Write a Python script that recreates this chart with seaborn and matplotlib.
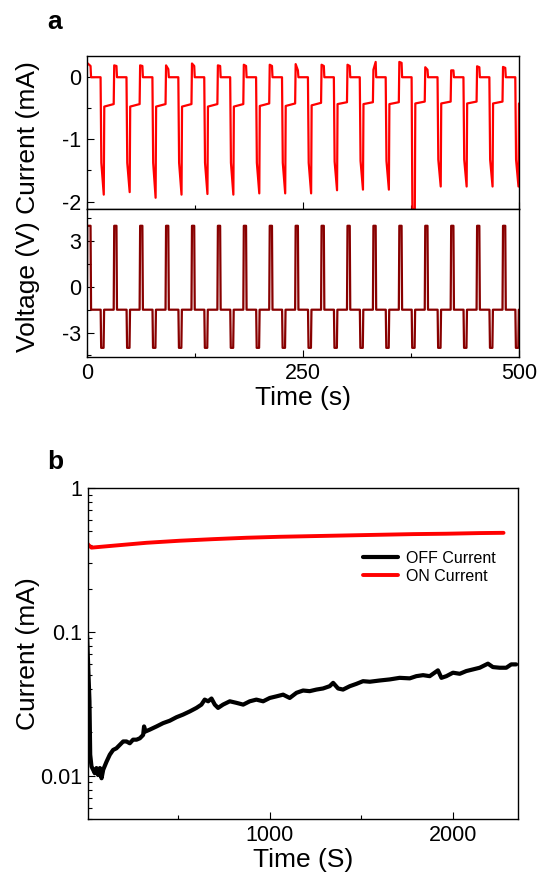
import numpy as np
import matplotlib
matplotlib.use("Agg")
import matplotlib.pyplot as plt
import seaborn as sns
import pandas as pd
from matplotlib.ticker import FixedLocator, NullFormatter
from matplotlib.lines import Line2D

# ---- panel a: pulse train (times in s, current in mA, voltage in V)
pulse_c = [2.8, 32.8, 62.8, 92.8, 122.8, 152.8, 182.8, 212.8, 242.8,
           272.8, 302.8, 332.8, 362.8, 392.8, 422.8, 452.8, 482.8]
peak_a = [0.22, 0.18, 0.18, 0.18, 0.21, 0.18, 0.19, 0.19, 0.20,
          0.19, 0.19, 0.11, 0.235, 0.15, 0.10, 0.165, 0.155]
peak_b = [0.17, 0.17, 0.17, 0.12, 0.17, 0.17, 0.17, 0.17, 0.10,
          0.17, 0.17, 0.235, 0.22, 0.11, 0.10, 0.15, 0.14]
knee = [-1.38, -1.38, -1.38, -1.38, -1.38, -1.38, -1.38, -1.38, -1.38,
        -1.36, -1.35, -1.35, -2.1, -1.33, -1.33, -1.33, -1.33]
bottom = [-1.89, -1.85, -1.94, -1.89, -1.88, -1.89, -1.87, -1.87, -1.87,
          -1.82, -1.81, -1.81, -2.2, -1.76, -1.76, -1.76, -1.76]
mid_start = [-0.48, -0.48, -0.48, -0.48, -0.48, -0.48, -0.47, -0.47, -0.46,
             -0.44, -0.44, -0.44, -0.43, -0.43, -0.43, -0.43, -0.43]
mid_end = [-0.44, -0.44, -0.44, -0.44, -0.44, -0.44, -0.43, -0.43, -0.42,
           -0.41, -0.41, -0.41, -0.40, -0.40, -0.40, -0.40, -0.40]
plateau = -0.01
v_high, v_mid, v_low = 4.0, -1.5, -4.0

# ---- panel b: long-term OFF / ON current (mA)
off_t = [3, 16, 20, 27, 36, 45, 54, 63, 73, 82, 91, 109, 127, 145, 163, 182, 200,
         218, 236, 254, 273, 291, 309, 314, 322, 345, 382, 418, 454, 491, 527, 564,
         600, 627, 645, 664, 682, 700, 718, 745, 782, 818, 855, 891, 927, 964, 1000,
         1036, 1073, 1109, 1146, 1182, 1218, 1255, 1291, 1327, 1346, 1373, 1400, 1437,
         1473, 1509, 1546, 1600, 1655, 1709, 1764, 1800, 1837, 1873, 1918, 1937, 1964,
         2000, 2037, 2073, 2109, 2146, 2191, 2218, 2255, 2291, 2318, 2345]
off_i = [0.094, 0.033, 0.0140, 0.0116, 0.0110, 0.0104, 0.0113, 0.0101, 0.0113, 0.0096,
         0.0110, 0.0125, 0.0140, 0.0151, 0.0155, 0.0164, 0.0173, 0.0173, 0.0168, 0.0178,
         0.0178, 0.0182, 0.0192, 0.0220, 0.0203, 0.0209, 0.0220, 0.0232, 0.0241, 0.0255,
         0.0266, 0.0280, 0.0296, 0.0312, 0.0338, 0.0329, 0.0344, 0.0312, 0.0296, 0.0312,
         0.0329, 0.0321, 0.0312, 0.0329, 0.0338, 0.0329, 0.0347, 0.0356, 0.0366, 0.0347,
         0.0377, 0.0391, 0.0387, 0.0397, 0.0404, 0.0419, 0.0442, 0.0404, 0.0397, 0.0419,
         0.0435, 0.0454, 0.0450, 0.0459, 0.0467, 0.0479, 0.0475, 0.0492, 0.0500, 0.0492,
         0.0540, 0.0479, 0.0492, 0.0520, 0.0511, 0.0534, 0.0548, 0.0563, 0.0601, 0.0569,
         0.0563, 0.0563, 0.0594, 0.0594]
on_t = [5, 12, 27, 145, 327, 509, 691, 873, 1055, 1237, 1418, 1600, 1782, 1964, 2146, 2276]
on_i = [0.41, 0.40, 0.385, 0.397, 0.416, 0.430, 0.441, 0.451, 0.458, 0.463,
        0.468, 0.473, 0.478, 0.481, 0.486, 0.488]

# build the pulse traces from the per-cycle readings
cur_t, cur_i = [0.0], [peak_a[0]]
vol_t, vol_v = [0.0, 0.3], [0.0, v_high]
for k, c in enumerate(pulse_c):
    if k > 0:
        cur_t += [c - 1.9, c - 1.3]
        cur_i += [mid_end[k - 1], peak_a[k]]
        vol_t += [c - 1.9, c - 1.3]
        vol_v += [v_mid, v_high]
    cur_t += [c + 1.3, c + 1.9, c + 12.9, c + 13.8, c + 16.6, c + 17.2]
    cur_i += [peak_b[k], plateau, plateau, knee[k], bottom[k], mid_start[k]]
    vol_t += [c + 1.3, c + 1.9, c + 13.0, c + 13.6, c + 16.4, c + 17.0]
    vol_v += [v_high, v_mid, v_mid, v_low, v_low, v_mid]

df_cur = pd.DataFrame({"t": cur_t, "i": cur_i})
df_vol = pd.DataFrame({"t": vol_t, "v": vol_v})
df_off = pd.DataFrame({"t": off_t, "i": off_i})
df_on = pd.DataFrame({"t": on_t, "i": on_i})

sns.set_theme(style="ticks")
plt.rcParams['font.family'] = ['Liberation Sans', 'DejaVu Sans']
plt.rcParams['axes.unicode_minus'] = False
for key in ('text.color', 'axes.labelcolor', 'xtick.color', 'ytick.color', 'axes.edgecolor'):
    plt.rcParams[key] = 'black'
plt.rcParams['xtick.direction'] = 'in'
plt.rcParams['ytick.direction'] = 'in'
plt.rcParams['axes.linewidth'] = 1.0

W, H = 538, 891
fig = plt.figure(figsize=(W / 100, H / 100), dpi=100)

def rect(l, t, r, b):
    return [l / W, 1 - b / H, (r - l) / W, (b - t) / H]

ax_i = fig.add_axes(rect(87, 56, 519, 209))
ax_v = fig.add_axes(rect(87, 209, 519, 357), sharex=ax_i)
ax_b = fig.add_axes(rect(88, 488, 518, 819))

tick_fs = 15.5
lab_fs = 19

sns.lineplot(data=df_cur, x="t", y="i", ax=ax_i, color="#ff0000", lw=1.6,
             estimator=None, sort=False)
sns.lineplot(data=df_vol, x="t", y="v", ax=ax_v, color="#880000", lw=1.6,
             estimator=None, sort=False)

ax_i.set_xlim(0, 500)
ax_i.set_ylim(-2.12, 0.33)
ax_i.set_yticks([0, -1, -2])
ax_i.yaxis.set_minor_locator(FixedLocator([-0.5, -1.5]))
ax_i.tick_params(labelbottom=False)
ax_v.set_ylim(-4.6, 5.1)
ax_v.set_yticks([3, 0, -3])
ax_v.yaxis.set_minor_locator(FixedLocator([-4.5, -1.5, 1.5, 4.5]))
ax_v.set_xticks([0, 250, 500])
ax_v.xaxis.set_minor_locator(FixedLocator([125, 375]))
for ax in (ax_i, ax_v):
    ax.set_xlabel("")
    ax.set_ylabel("")
ax_v.set_xlabel("Time (s)", fontsize=lab_fs, labelpad=2)

sns.lineplot(data=df_off, x="t", y="i", ax=ax_b, color="black", lw=3.0,
             estimator=None, sort=False)
sns.lineplot(data=df_on, x="t", y="i", ax=ax_b, color="#ff0000", lw=2.8,
             estimator=None, sort=False)
ax_b.set_yscale("log")
ax_b.set_ylim(0.005, 1)
ax_b.set_xlim(8, 2355)
ax_b.set_yticks([0.01, 0.1, 1])
ax_b.set_yticklabels(["0.01", "0.1", "1"])
ax_b.yaxis.set_minor_formatter(NullFormatter())
ax_b.set_xticks([1000, 2000])
ax_b.xaxis.set_minor_locator(FixedLocator([500, 1500]))
ax_b.set_xlabel("Time (S)", fontsize=lab_fs, labelpad=2)
ax_b.set_ylabel("Current (mA)", fontsize=lab_fs)
ax_b.yaxis.set_label_coords((40 - 88) / 430, 0.5)

for ax in (ax_i, ax_v, ax_b):
    for s in ax.spines.values():
        s.set_visible(True)
        s.set_color("black")
    ax.tick_params(which="major", length=5, width=0.8, labelsize=tick_fs, pad=4)
    ax.tick_params(which="minor", length=3, width=0.8)

handles = [Line2D([], [], color="black", lw=3.0), Line2D([], [], color="#ff0000", lw=2.8)]
ax_b.legend(handles, ["OFF Current", "ON Current"], loc="upper left",
            bbox_to_anchor=(0.64, 0.81), frameon=False, fontsize=11.5,
            handlelength=2.2, handletextpad=0.45, labelspacing=0.2,
            borderpad=0, borderaxespad=0)

fig.text(28 / W, 1 - 207 / H, "Voltage (V) Current (mA)", rotation=90,
         ha="center", va="center", fontsize=lab_fs)
fig.text(55 / W, 1 - 22 / H, "a", fontsize=19, fontweight="bold", ha="center", va="center")
fig.text(55 / W, 1 - 462 / H, "b", fontsize=19, fontweight="bold", ha="center", va="center")

fig.savefig("out.png", dpi=100)
